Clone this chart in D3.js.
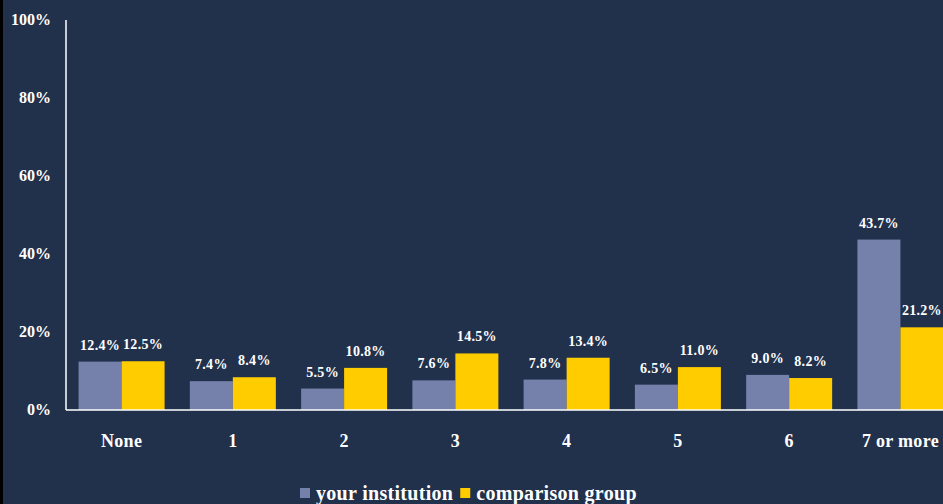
<!DOCTYPE html>
<html>
<head>
<meta charset="utf-8">
<script src="https://cdn.jsdelivr.net/npm/d3@7"></script>
<style>
  html, body { margin: 0; padding: 0; background: #22314b; }
  svg { display: block; }
  text { font-family: "Liberation Serif", "DejaVu Serif", serif; font-weight: bold; fill: #fff; }
</style>
</head>
<body>
<div id="chart"></div>
<script>
const categories = ["None", "1", "2", "3", "4", "5", "6", "7 or more"];
const yourInstitution = [12.4, 7.4, 5.5, 7.6, 7.8, 6.5, 9.0, 43.7];
const comparisonGroup = [12.5, 8.4, 10.8, 14.5, 13.4, 11.0, 8.2, 21.2];
const seriesNames = ["your institution", "comparison group"];
const yTicks = [0, 20, 40, 60, 80, 100];

const width = 943, height = 504;
const colors = ["#7580ab", "#ffcc00"];

const svg = d3.select("#chart").append("svg")
    .attr("width", width)
    .attr("height", height);

svg.append("rect")
    .attr("width", width).attr("height", height)
    .attr("fill", "#22314b");
// dark strip on left edge
svg.append("rect")
    .attr("width", 3).attr("height", height)
    .attr("fill", "#000");

const x0 = d3.scaleBand()
    .domain(categories)
    .range([66, 956])
    .paddingInner(0.227)
    .paddingOuter(0.113);

const x1 = d3.scaleBand()
    .domain(seriesNames)
    .range([0, x0.bandwidth()]);

const y = d3.scaleLinear()
    .domain([0, 100])
    .range([410, 20]);

const rows = categories.map(function(c, i) {
  return { cat: c, values: [yourInstitution[i], comparisonGroup[i]] };
});

const groups = svg.selectAll("g.group")
    .data(rows)
  .enter().append("g")
    .attr("class", "group")
    .attr("transform", function(d) { return "translate(" + x0(d.cat) + ",0)"; });

groups.selectAll("rect")
    .data(function(d) { return d.values.map(function(v, j) { return { name: seriesNames[j], v: v, j: j }; }); })
  .enter().append("rect")
    .attr("x", function(d) { return x1(d.name); })
    .attr("y", function(d) { return y(d.v); })
    .attr("width", x1.bandwidth())
    .attr("height", function(d) { return y(0) - y(d.v); })
    .attr("fill", function(d) { return colors[d.j]; });

groups.selectAll("text.val")
    .data(function(d) { return d.values.map(function(v, j) { return { name: seriesNames[j], v: v }; }); })
  .enter().append("text")
    .attr("class", "val")
    .attr("x", function(d) { return x1(d.name) + x1.bandwidth() / 2; })
    .attr("y", function(d) { return y(d.v) - 12; })
    .attr("text-anchor", "middle")
    .style("font-size", "14px")
    .style("letter-spacing", "0.3px")
    .text(function(d) { return d.v.toFixed(1) + "%"; });

// axes lines
svg.append("line")
    .attr("x1", 66).attr("x2", 66)
    .attr("y1", y(100)).attr("y2", y(0))
    .attr("stroke", "#fff").attr("stroke-width", 1.5);
svg.append("line")
    .attr("x1", 66).attr("x2", width)
    .attr("y1", y(0)).attr("y2", y(0))
    .attr("stroke", "#fff").attr("stroke-width", 1.5);

// y tick labels
svg.selectAll("text.ytick")
    .data(yTicks)
  .enter().append("text")
    .attr("class", "ytick")
    .attr("x", 51)
    .attr("y", function(d) { return y(d) + 5; })
    .attr("text-anchor", "end")
    .style("font-size", "16px")
    .text(function(d) { return d + "%"; });

// x labels
svg.selectAll("text.xlab")
    .data(categories)
  .enter().append("text")
    .attr("class", "xlab")
    .attr("x", function(d) { return x0(d) + x0.bandwidth() / 2; })
    .attr("y", 447)
    .attr("text-anchor", "middle")
    .style("font-size", "18px")
    .style("letter-spacing", "0.3px")
    .text(function(d) { return d; });

// legend
const legend = svg.append("g").attr("transform", "translate(300,493)");
let lx = 0;
seriesNames.forEach(function(name, i) {
  legend.append("rect")
      .attr("x", lx).attr("y", -5)
      .attr("width", 10).attr("height", 10)
      .attr("fill", colors[i]);
  const t = legend.append("text")
      .attr("x", lx + 16).attr("y", 7)
      .style("font-size", "20px")
      .style("letter-spacing", "0.3px")
      .text(name);
  lx += 16 + t.node().getComputedTextLength() + 7;
});
</script>
</body>
</html>
